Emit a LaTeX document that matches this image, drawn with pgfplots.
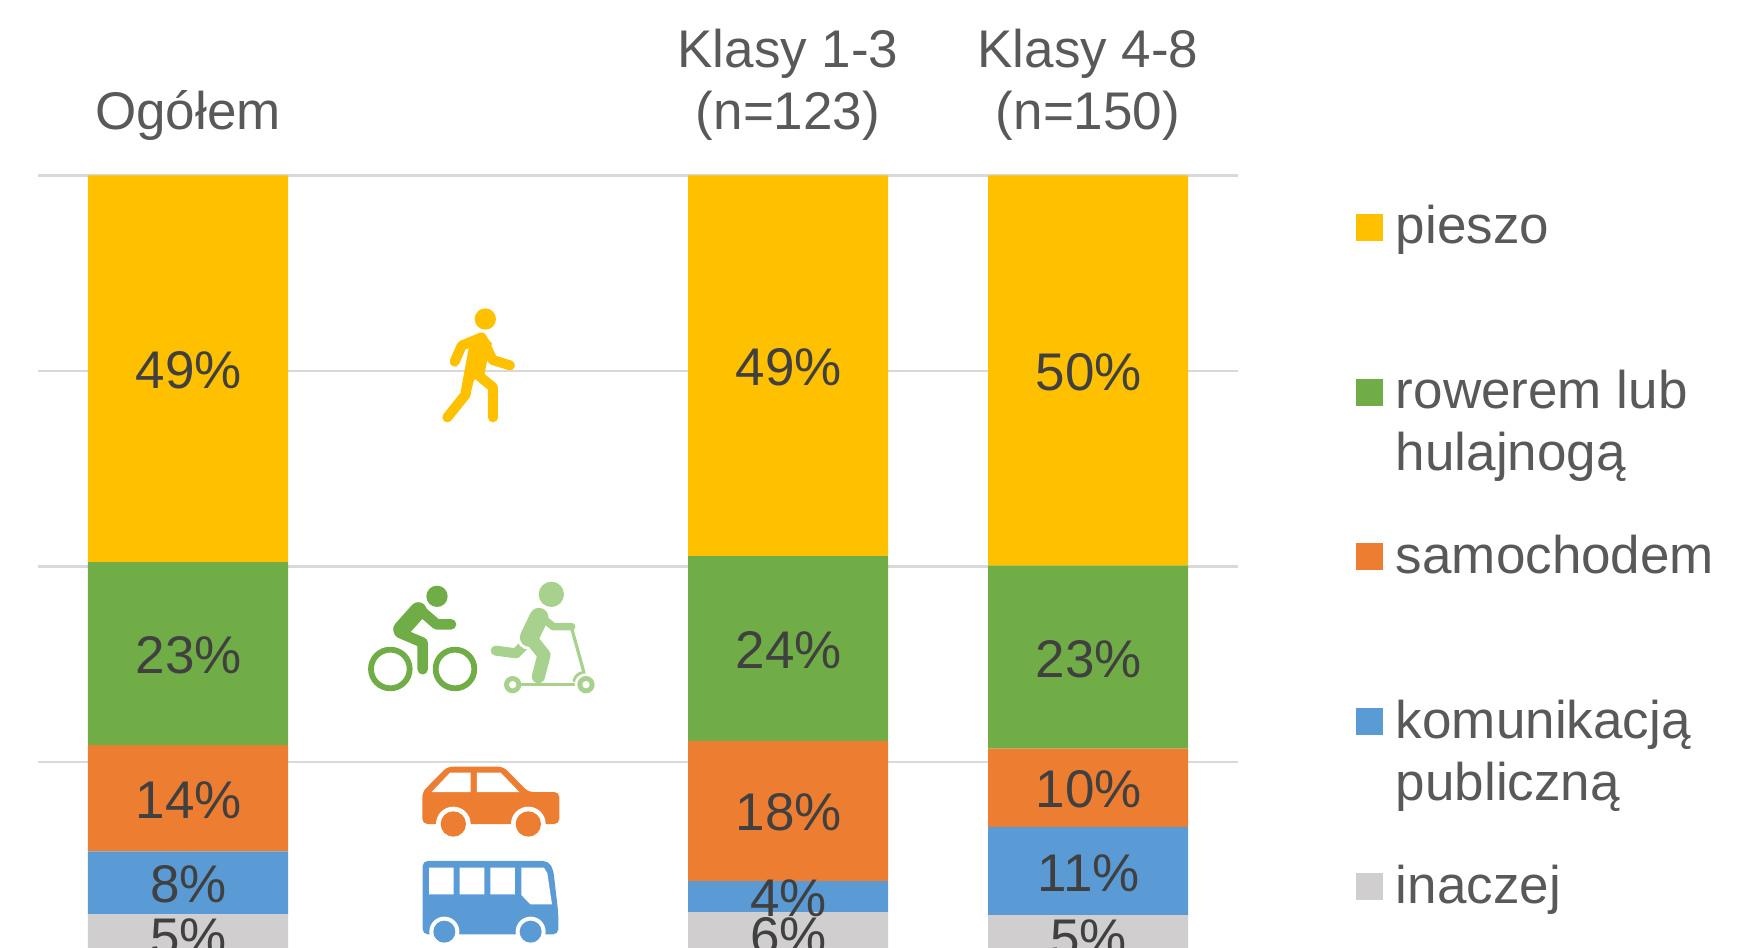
\documentclass[border=0pt]{standalone}
\usepackage{fontspec}
\setmainfont{Liberation Sans}
\usepackage{pgfplots}
\pgfplotsset{compat=1.18}
\definecolor{cYellow}{HTML}{FFC000}
\definecolor{cGreen}{HTML}{70AD47}
\definecolor{cGreenL}{HTML}{A9D18E}
\definecolor{cOrange}{HTML}{ED7D31}
\definecolor{cBlue}{HTML}{5B9BD5}
\definecolor{cGrey}{HTML}{D0CECE}
\definecolor{cGrid}{HTML}{D9D9D9}
\definecolor{cLabel}{HTML}{404040}
\definecolor{cText}{HTML}{595959}
\newcommand{\bigfont}{\fontsize{26.6}{30.9}\selectfont}
\begin{document}
\begin{tikzpicture}
% 1 px of the reference = 0.5bp, origin top left of the page
\begin{axis}[
    at={(19bp,-478.7bp)}, anchor=south west,
    scale only axis, width=600bp, height=391bp,
    xmin=-0.5, xmax=3.5, ymin=0, ymax=100,
    ybar stacked, bar width=100bp,
    xtick={0,1,2,3},
    xticklabels={{Ogółem\strut},{},{Klasy 1-3\\(n=123)\strut},{Klasy 4-8\\(n=150)\strut}},
    xticklabel pos=upper,
    xticklabel style={font=\bigfont, text=cText, align=center, anchor=south, inner sep=0pt, yshift=13.7bp},
    ytick={0,25,50,75,100}, yticklabels={},
    ymajorgrids, grid style={cGrid, line width=1.1bp},
    axis line style={draw=none}, tick style={draw=none}, major tick length=0pt,
    clip=false,
    reverse legend,
    legend cell align=left,
    legend image code/.code={\fill[#1] (0bp,-5.4bp) rectangle (13.5bp,8.1bp);},
    legend style={draw=none, fill=none, font=\bigfont, text=cText,
        at={(1.0983,0.9637)}, anchor=north west, inner sep=0pt, outer sep=0pt,
        row sep=56.45bp,
        nodes={inner ysep=0pt, inner xsep=6.5bp, text height=20bp, text depth=6bp}},
]
\addplot[fill=cGrey, draw=none] coordinates {(0,5.5) (2,5.75) (3,5.4)};
\addlegendentry{inaczej}
\addplot[fill=cBlue, draw=none] coordinates {(0,8.06) (2,4.0) (3,11.3)};
\addlegendentry{\smash{\parbox[t]{200pt}{komunikacją\\publiczną}}}
\addplot[fill=cOrange, draw=none] coordinates {(0,13.6) (2,17.95) (3,10.0)};
\addlegendentry{samochodem}
\addplot[fill=cGreen, draw=none] coordinates {(0,23.4) (2,23.6) (3,23.4)};
\addlegendentry{\smash{\parbox[t]{200pt}{rowerem lub\\hulajnogą}}}
\addplot[fill=cYellow, draw=none] coordinates {(0,49.44) (2,48.7) (3,49.9)};
\addlegendentry{pieszo}
\end{axis}
% data labels sit on top of all the bars, hence a second axis
\begin{axis}[
    at={(19bp,-478.7bp)}, anchor=south west,
    scale only axis, width=600bp, height=391bp,
    xmin=-0.5, xmax=3.5, ymin=0, ymax=100,
    hide axis, clip=false,
]
\addplot[only marks, mark=none, point meta=explicit symbolic,
    nodes near coords={\pgfplotspointmeta\%},
    nodes near coords style={anchor=center, inner sep=0pt, xshift=0.4bp, yshift=-0.9bp, font=\bigfont, text=cLabel}]
  table[x=x, y=y, meta=l] {
x y l
0 2.75 5
0 9.53 8
0 20.36 14
0 38.86 23
0 75.28 49
2 2.88 6
2 7.75 4
2 18.73 18
2 39.5 24
2 75.65 49
3 2.7 5
3 11.05 11
3 21.7 10
3 38.4 23
3 75.05 50
};
\end{axis}
% pictograms between the bars
\begin{scope}[shift={(170bp,-140bp)}, x=0.16667bp, y=-0.16667bp, line cap=round, line join=round]
  % walker
  \fill[cYellow] (436,117) circle (32);
  \draw[cYellow, line width=5bp] (344,245) -- (365,197) -- (425,172) -- (458,240) -- (510,256);
  \fill[cYellow] (388,195) -- (425,158) -- (456,190) -- (443,235) -- (432,290) -- (402,300) -- (390,348) -- (362,335) -- cycle;
  \draw[cYellow, line width=5bp] (378,342) -- (322,412);
  \draw[cYellow, line width=5bp] (420,290) -- (459,322) -- (459,412);
  % cyclist
  \fill[cGreen] (291,949) circle (32);
  \draw[cGreen, line width=2.9bp] (151,1167) circle (58) (345,1167) circle (58);
  \draw[cGreen, line width=8.5bp] (235,992) -- (185,1048);
  \draw[cGreen, line width=5.3bp] (240,990) -- (290,1033) -- (333,1033);
  \draw[cGreen, line width=5.2bp] (178,1058) -- (248,1088) -- (248,1168);
  % scooter rider
  \draw[cGreenL, line width=1.6bp] (518,1214) -- (738,1214);
  \draw[cGreenL, line width=1.6bp] (695,1045) -- (732,1178) arc[start angle=-90, end angle=-170, radius=30];
  \fill[white] (738,1214) circle (34);
  \fill[cGreenL] (518,1214) circle (26) (738,1214) circle (26);
  \fill[white] (518,1214) circle (11) (738,1214) circle (11);
  \fill[cGreenL] (634,943) circle (38);
  \draw[cGreenL, line width=5bp] (553,1095) -- (528,1120) -- (467,1112);
  \draw[white, line width=12.5bp] (597,1012) -- (568,1072);
  \draw[cGreenL, line width=9.5bp] (597,1012) -- (568,1072);
  \draw[cGreenL, line width=3.8bp] (600,1008) -- (640,1040) -- (695,1040);
  \draw[cGreenL, line width=6.6bp] (568,1070) -- (612,1125) -- (595,1190);
\end{scope}
\begin{scope}[shift={(170bp,-330bp)}, x=0.16667bp, y=-0.16667bp, rounded corners=2.5bp]
  % car
  \fill[cOrange] (247,492) -- (247,396) -- (322,320) -- (490,320) -- (565,396) -- (658,396) -- (658,492) -- cycle;
  \fill[white, sharp corners] (275,396) -- (330,338) -- (392,338) -- (392,396) -- cycle;
  \fill[white, sharp corners] (411,396) -- (411,338) -- (482,338) -- (538,396) -- cycle;
  \fill[white] (340,492) circle (52) (565,492) circle (52);
  \fill[cOrange] (340,492) circle (38) (565,492) circle (38);
  % bus
  \fill[cBlue] (248,823) -- (248,603) -- (625,603) -- (640,630) -- (655,760) -- (655,823) -- cycle;
  \fill[white, sharp corners] (267,623) rectangle (341,703) (359,623) rectangle (433,703) (451,623) rectangle (525,703);
  \fill[white, sharp corners] (544,623) -- (612,623) -- (622,640) -- (636,733) -- (571,733) -- (544,705) -- cycle;
  \fill[white] (313,815) circle (45) (572,815) circle (45);
  \fill[cBlue] (313,815) circle (33) (572,815) circle (33);
\end{scope}
\pgfresetboundingbox
\path[use as bounding box] (0bp,0bp) rectangle (873bp,-474bp);
\end{tikzpicture}
\end{document}
